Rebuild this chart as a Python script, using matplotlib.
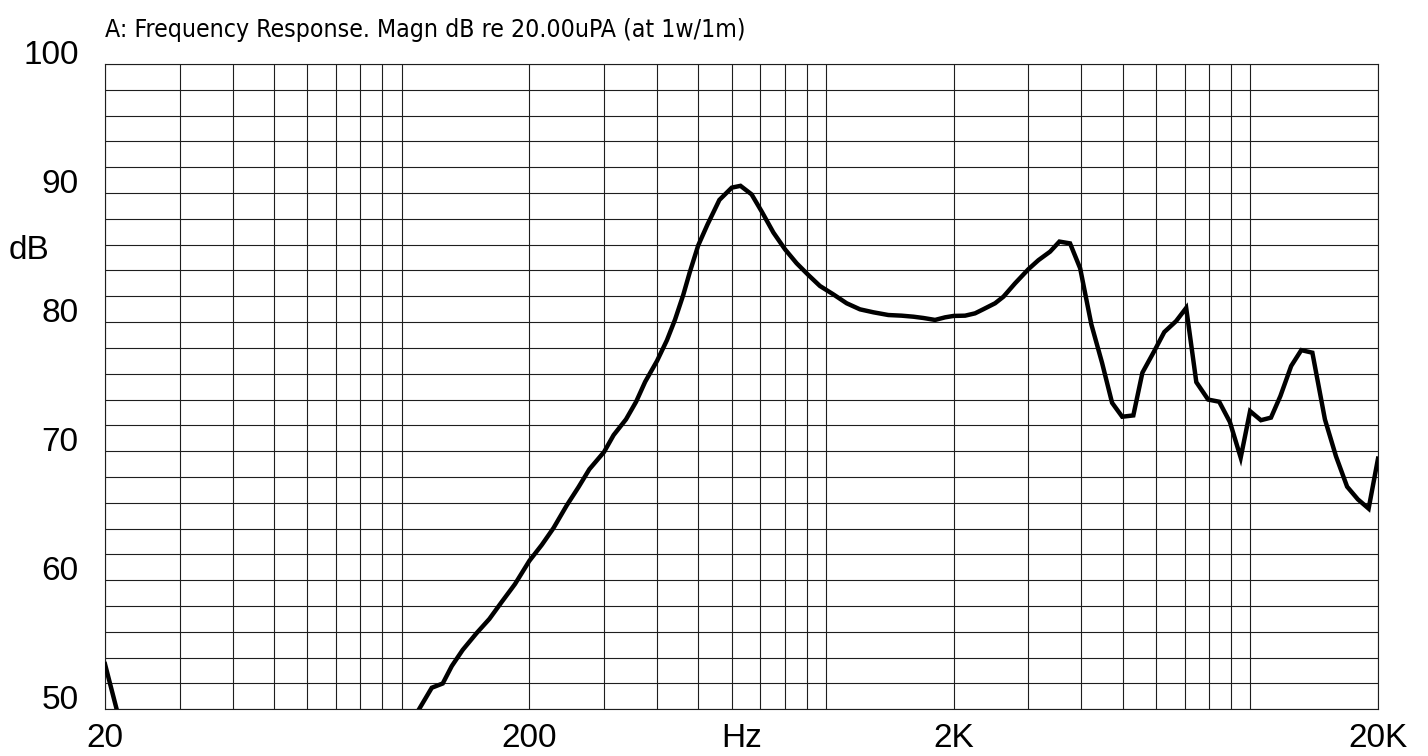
import matplotlib
matplotlib.use("Agg")
import matplotlib.pyplot as plt
from matplotlib.ticker import FixedLocator, NullFormatter
import matplotlib.font_manager as fm

# ---- data ----
freq_low = [20, 21.5]
spl_low = [53.5, 49.5]

freq = [105, 117.8, 125, 131.3, 139.3, 150.2, 161, 172, 185, 200, 214, 228, 245, 261, 277,
        300, 316, 338, 357, 375, 400, 422, 441, 461, 478, 500, 526, 561, 600, 629, 668,
        706, 752, 801, 853, 909, 968, 1041, 1119, 1203, 1294, 1403, 1508, 1608, 1697,
        1808, 1909, 2000, 2128, 2246, 2350, 2504, 2620, 2790, 3000, 3168, 3375, 3550,
        3761, 3973, 4222, 4474, 4724, 4991, 5302, 5569, 5938, 6272, 6688, 7063, 7462,
        7956, 8450, 8954, 9494, 9990, 10594, 11190, 11776, 12486, 13190, 14008, 14996,
        15924, 16914, 17928, 19008, 20000]
spl = [48.9, 51.67, 52.0, 53.35, 54.6, 55.9, 57.0, 58.3, 59.7, 61.5, 62.74, 64.04, 65.8,
       67.2, 68.6, 69.94, 71.25, 72.47, 73.83, 75.38, 77.0, 78.6, 80.2, 82.1, 83.9, 85.94,
       87.57, 89.47, 90.42, 90.56, 89.9, 88.56, 86.94, 85.64, 84.56, 83.65, 82.8, 82.15,
       81.46, 80.99, 80.76, 80.55, 80.5, 80.42, 80.32, 80.17, 80.37, 80.48, 80.5, 80.68,
       81.0, 81.46, 81.97, 83.0, 84.1, 84.8, 85.46, 86.24, 86.1, 84.17, 79.82, 76.85,
       73.75, 72.67, 72.77, 76.08, 77.75, 79.23, 80.08, 81.1, 75.35, 74.0, 73.83, 72.26,
       69.5, 73.1, 72.4, 72.6, 74.27, 76.6, 77.83, 77.63, 72.46, 69.6, 67.25, 66.27,
       65.55, 69.42]

x_major = [20, 200, 2000, 20000]
x_major_labels = ["20", "200", "2K", "20K"]
x_minor = [30, 40, 50, 60, 70, 80, 90, 100, 300, 400, 500, 600, 700, 800, 900, 1000,
           3000, 4000, 5000, 6000, 7000, 8000, 9000, 10000]
y_major = [50, 60, 70, 80, 90, 100]
y_grid = list(range(50, 101, 2))

title = "A: Frequency Response. Magn dB re 20.00uPA (at 1w/1m)"

# ---- fonts ----
names = {f.name for f in fm.fontManager.ttflist}
regular = "Liberation Sans" if "Liberation Sans" in names else "DejaVu Sans"
has_cond = any(f.name == "DejaVu Sans" and f.stretch in ("condensed", 300, "semi-condensed")
               for f in fm.fontManager.ttflist)

W, H = 1428, 756
fig = plt.figure(figsize=(W / 100, H / 100), dpi=100)
L, R, T, B = 105, 1378, 64, 709.3
ax = fig.add_axes([L / W, 1 - B / H, (R - L) / W, (B - T) / H])

ax.set_xscale("log")
ax.set_xlim(20, 20000)
ax.set_ylim(50, 100)

gc = "#1e1e1e"
for v in x_major + x_minor:
    ax.axvline(v, color=gc, lw=0.8, zorder=1)
for v in y_grid:
    ax.axhline(v, color=gc, lw=0.8, zorder=1)
for s in ax.spines.values():
    s.set_color(gc)
    s.set_linewidth(0.8)

ax.plot(freq_low, spl_low, color="black", lw=3.2, zorder=3, solid_joinstyle="miter")
ax.plot(freq, spl, color="black", lw=3.2, zorder=3, solid_joinstyle="miter")

ax.xaxis.set_major_locator(FixedLocator(x_major))
ax.xaxis.set_minor_locator(FixedLocator(x_minor))
ax.xaxis.set_minor_formatter(NullFormatter())
ax.set_xticklabels(x_major_labels, fontsize=24, fontfamily=regular)
ax.set_yticks(y_major)
ax.set_yticklabels([str(v) for v in y_major], fontsize=24, fontfamily=regular)
ax.tick_params(axis="both", which="both", length=0)
ax.tick_params(axis="x", pad=10)
ax.tick_params(axis="y", pad=19)
for lbl in ax.get_yticklabels():
    lbl.set_verticalalignment("baseline")

# "Hz" centered in the x label row
ax.annotate("Hz", xy=(0.5, 0), xycoords="axes fraction", xytext=(0, -10),
            textcoords="offset points", ha="center", va="top", fontsize=24,
            fontfamily=regular)

fig.text(9 / W, 1 - 259 / H, "dB", ha="left", va="baseline", fontsize=24,
         fontfamily=regular)
if has_cond:
    fig.text(L / W, 1 - 30 / H, title, ha="left", va="center", fontsize=17.8,
             fontfamily="DejaVu Sans", fontstretch="condensed")
else:
    fig.text(L / W, 1 - 30 / H, title, ha="left", va="center", fontsize=17.8,
             fontfamily=regular)

fig.savefig("out.png", dpi=100, facecolor="white")
